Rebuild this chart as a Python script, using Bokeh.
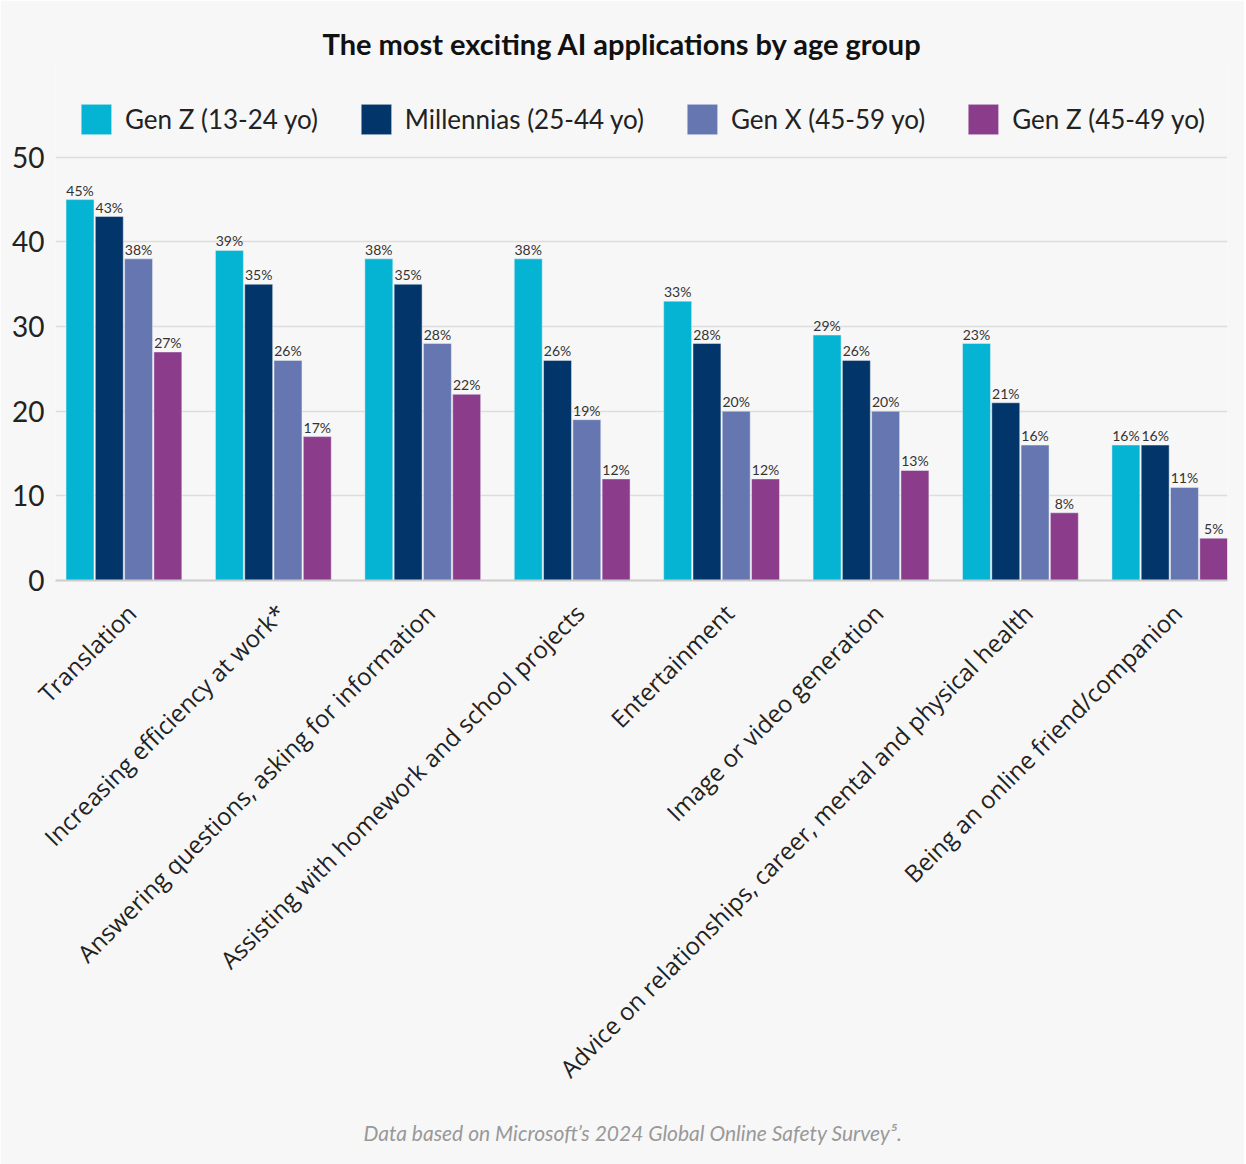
import math
from bokeh.plotting import figure
from bokeh.models import (ColumnDataSource, Range1d, FixedTicker, Legend, LegendItem,
                          LabelSet, Title)
from bokeh.core.properties import value
from bokeh.embed import file_html
from bokeh.resources import INLINE

categories = [
    "Translation",
    "Increasing efficiency at work*",
    "Answering questions, asking for information",
    "Assisting with homework and school projects",
    "Entertainment",
    "Image or video generation",
    "Advice on relationships, career, mental and physical health",
    "Being an online friend/companion",
]
series_names = ["Gen Z (13-24 yo)", "Millennias (25-44 yo)", "Gen X (45-59 yo)", "Gen Z (45-49 yo)"]
gen_z = [45, 39, 38, 38, 33, 29, 28, 16]
millennials = [43, 35, 35, 26, 28, 26, 21, 16]
gen_x = [38, 26, 28, 19, 20, 20, 16, 11]
gen_z2 = [27, 17, 22, 12, 12, 13, 8, 5]
gen_z_labels = ["45%", "39%", "38%", "38%", "33%", "29%", "23%", "16%"]
millennials_labels = ["43%", "35%", "35%", "26%", "28%", "26%", "21%", "16%"]
gen_x_labels = ["38%", "26%", "28%", "19%", "20%", "20%", "16%", "11%"]
gen_z2_labels = ["27%", "17%", "22%", "12%", "12%", "13%", "8%", "5%"]
y_ticks = [0, 10, 20, 30, 40, 50]

colors = ["#05B3D2", "#02356A", "#6576B0", "#8B3C8B"]
values = [gen_z, millennials, gen_x, gen_z2]
labels = [gen_z_labels, millennials_labels, gen_x_labels, gen_z2_labels]

W, H = 1244, 1164
FL, FR, FT, FB = 55, 1227, 62, 580          # frame edges (pixels)

p = figure(width=W, height=H, output_backend="svg", toolbar_location=None,
           x_range=Range1d(-0.458, 7.386), y_range=Range1d(0, 61.2),
           background_fill_color="#F7F7F7", border_fill_color="#F7F7F7",
           min_border_left=FL, min_border_right=W - FR, min_border_top=FT,
           min_border_bottom=H - FB)
p.outline_line_color = None

p.title.text = "The most exciting AI applications by age group"
p.title.align = "left"
p.title.text_font = "Lato"
p.title.text_font_style = "bold"
p.title.text_font_size = "29px"
p.title.text_color = "#111111"
p.title.standoff = 4
p.title.offset = 322 - FL

bw = 0.187
pitch = 0.196
renderers = []
for j in range(4):
    xs = [i + (j - 1.5) * pitch for i in range(len(categories))]
    src = ColumnDataSource(dict(x=xs, top=values[j], lab=labels[j]))
    r = p.vbar(x="x", top="top", width=bw, bottom=0, source=src,
               fill_color=colors[j], line_color="#EEF2F6", line_width=0.8, line_alpha=0.6)
    renderers.append(r)
    ls = LabelSet(x="x", y="top", text="lab", source=src, text_align="center",
                  text_baseline="bottom", y_offset=1, text_font=value("Lato"),
                  text_font_size=value("14px"), text_color="#333333")
    p.add_layout(ls)

legend = Legend(items=[LegendItem(label=series_names[j], renderers=[renderers[j]]) for j in range(4)],
                orientation="horizontal", location="top_center",
                label_text_font="Lato", label_text_font_size="26px", label_text_color="#222222",
                glyph_width=38, glyph_height=38, label_standoff=10, spacing=39,
                background_fill_alpha=0, border_line_color=None, margin=38, padding=0)
p.add_layout(legend)

p.xgrid.grid_line_color = None
p.ygrid.grid_line_color = "#DDDDDD"
p.ygrid.grid_line_width = 1.5
p.yaxis.ticker = FixedTicker(ticks=y_ticks)
p.yaxis.axis_line_color = None
p.yaxis.major_tick_line_color = None
p.yaxis.minor_tick_line_color = None
p.yaxis.major_label_text_font = "Lato"
p.yaxis.major_label_text_font_size = "28px"
p.yaxis.major_label_text_color = "#222222"
p.yaxis.major_label_standoff = 5

label_shift = 0.05
tick_pos = [i + label_shift for i in range(len(categories))]
p.xaxis.ticker = FixedTicker(ticks=tick_pos)
p.xaxis.major_label_overrides = {t: c for t, c in zip(tick_pos, categories)}
p.xaxis.major_label_orientation = math.pi / 4
p.xaxis.major_label_text_font = "Open Sans"
p.xaxis.major_label_text_font_size = "24px"
p.xaxis.major_label_text_color = "#222222"
p.xaxis.axis_line_color = "#CCCCCC"
p.xaxis.axis_line_width = 2
p.xaxis.major_tick_line_color = None
p.xaxis.minor_tick_line_color = None
p.xaxis.major_label_standoff = 22

footer = Title(text="Data based on Microsoft\u2019s 2024 Global Online Safety Survey\u2075.",
               align="left", offset=363 - FL, text_font="Lato", text_font_style="italic",
               text_font_size="21px", text_color="#999999", standoff=38)
p.add_layout(footer, "below")

open("out.html", "w").write(file_html(p, INLINE))
